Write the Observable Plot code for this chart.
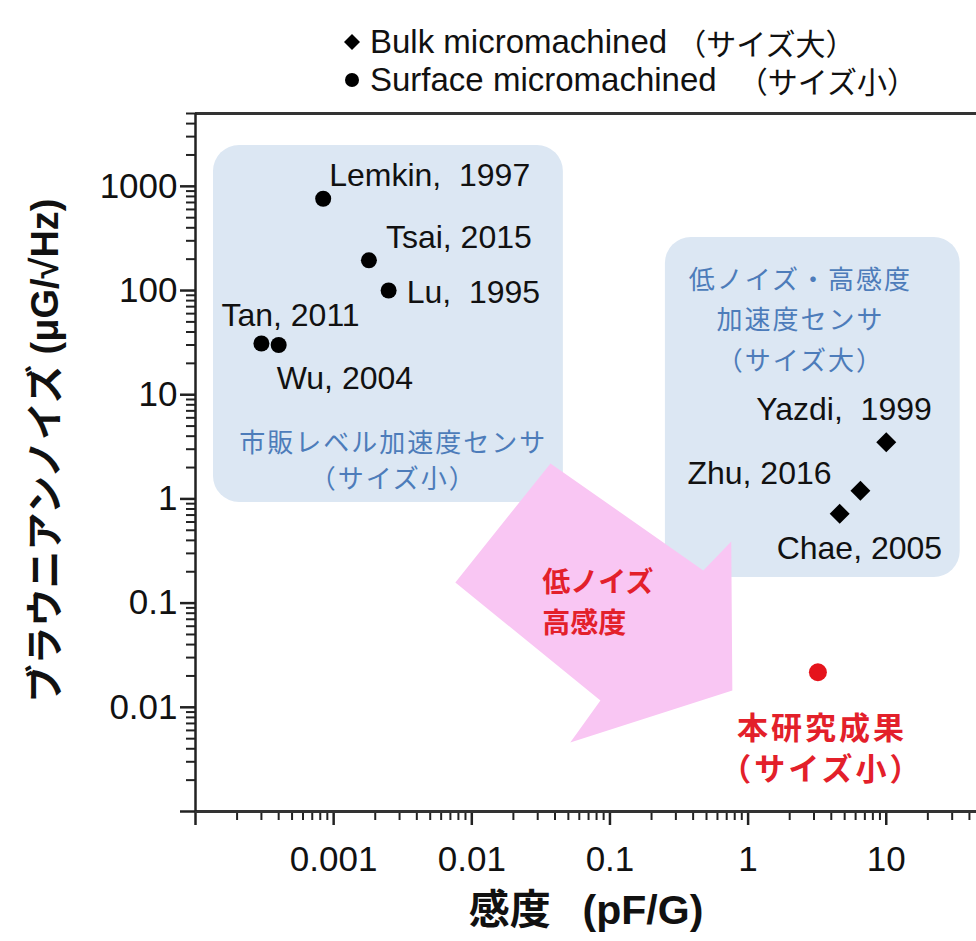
<!DOCTYPE html>
<html><head><meta charset="utf-8">
<script src="https://cdn.jsdelivr.net/npm/d3@7"></script>
<script src="https://cdn.jsdelivr.net/npm/@observablehq/plot@0.6"></script>
<style>
body{margin:0;background:#fff;font-family:"Liberation Sans","Noto Sans CJK JP",sans-serif;color:#111;}
#legend{position:relative;width:976px;height:100px;}
.row{position:absolute;left:343px;display:flex;align-items:center;font-size:33px;white-space:pre;}
.row svg{margin-right:9px;}
.row .jp{font-size:30px;}
#chart svg text{white-space:pre;}
</style></head><body>
<div id="legend"></div>
<div id="chart"></div>
<script>
// ---- data ----
const legendLabels = ["Bulk micromachined", "Surface micromachined"];
const legendNotes = ["（サイズ大）", "（サイズ小）"];
const legendSymbols = ["diamond", "circle"];

const xDomain = [1e-4, 45];
const yDomain = [0.001, 5000];
const xTickValues = [0.0001, 0.001, 0.01, 0.1, 1, 10];
const xTickLabels = ["", "0.001", "0.01", "0.1", "1", "10"];
const yTickValues = [0.001, 0.01, 0.1, 1, 10, 100, 1000];
const yTickLabels = ["", "0.01", "0.1", "1", "10", "100", "1000"];
const xLabel = "感度\u2002 (pF/G)";
const yLabel = "ブラウニアンノイズ (μG/√Hz)";

const refNames = ["Lemkin,  1997", "Tsai, 2015", "Lu,  1995", "Tan, 2011", "Wu, 2004", "Yazdi,  1999", "Zhu, 2016", "Chae, 2005"];
const refType = ["Surface", "Surface", "Surface", "Surface", "Surface", "Bulk", "Bulk", "Bulk"];
const refSens = [0.00084, 0.0018, 0.0025, 0.0003, 0.0004, 10, 6.5, 4.6];
const refNoise = [760, 195, 100, 31, 30, 3.5, 1.2, 0.72];

const ourSens = [3.2];
const ourNoise = [0.0217];
const ourLabel = ["本研究成果\n（サイズ小）"];

const boxX1 = [1.35e-4, 0.252];
const boxX2 = [0.046, 34.3];
const boxY1 = [0.925, 0.176];
const boxY2 = [2466, 323];
const boxText = ["市販レベル加速度センサ\n（サイズ小）", "低ノイズ・高感度\n加速度センサ\n（サイズ大）"];
const boxTextX = [0.0027, 2.39];
const boxTextY = [2.44, 56.4];

const arrowX = [0.0371, 0.474, 0.755, 0.769, 0.0516, 0.0853, 0.0076];
const arrowY = [2.19, 0.206, 0.391, 0.0145, 0.0046, 0.01164, 0.158];
const arrowText = ["低ノイズ\n高感度"];
const arrowTextX = [0.0324];
const arrowTextY = [0.1086];

// ---- legend ----
const lg = document.getElementById("legend");
legendLabels.forEach((t, i) => {
  const row = document.createElement("div");
  row.className = "row";
  row.style.top = (i === 0 ? 20 : 58) + "px";
  const shape = legendSymbols[i] === "diamond"
    ? '<path d="M9,1L17,9L9,17L1,9Z" fill="#000"/>'
    : '<circle cx="9" cy="9" r="7" fill="#000"/>';
  const gap = i === 0 ? 0 : 12;
  row.innerHTML = `<svg width="18" height="18">${shape}</svg><span>${t} </span><span class="jp" style="margin-left:${gap}px">${legendNotes[i]}</span>`;
  lg.appendChild(row);
});

// ---- chart ----
const FONT = '"Liberation Sans","Noto Sans CJK JP",sans-serif';
const isMajor = v => Math.abs(Math.log10(v) - Math.round(Math.log10(v))) < 1e-6;
const xMinor = d3.scaleLog().domain(xDomain).ticks(30).filter(v => !isMajor(v));
const yMinor = d3.scaleLog().domain(yDomain).ticks(30).filter(v => !isMajor(v));
const xLab = new Map(xTickValues.map((v, i) => [v, xTickLabels[i]]));
const yLab = new Map(yTickValues.map((v, i) => [v, yTickLabels[i]]));

const refIdx = refNames.map((_, i) => i);
const arrowIdx = arrowX.map((_, i) => i);

// label offsets (px) relative to each point
const offsets = [[6, -23], [17, -23], [18, 2], [-40, -28], [-2, 34], [-130, -32], [-173, -17], [-63, 35]];
const boxFont = [26, 26];
const boxLine = [1.4, 1.55];
const BOXBLUE = "#4d7cba", RED1 = "#e3202b", RED2 = "#e3202a";

const marks = [
  Plot.rect([0, 1], {x1: i => boxX1[i], x2: i => boxX2[i], y1: i => boxY1[i], y2: i => boxY2[i],
    fill: "#dce7f3", rx: 26}),
  Plot.line(arrowIdx, {x: i => arrowX[i], y: i => arrowY[i], curve: "linear-closed", fill: "#f9c6f3", stroke: "none"}),
  ...[0, 1].map(i => Plot.text([i], {x: j => boxTextX[j], y: j => boxTextY[j], text: j => boxText[j],
    fill: BOXBLUE, fontSize: boxFont[i], lineHeight: boxLine[i], fontFamily: FONT, textAnchor: "middle"})),
  Plot.text(arrowText, {x: () => arrowTextX[0], y: () => arrowTextY[0], text: d => d, textAnchor: "start",
    fill: RED1, fontSize: 28, fontWeight: "bold", lineHeight: 1.46, fontFamily: FONT}),
  // axes
  Plot.axisX(xMinor, {tickSize: 9, tickFormat: () => "", strokeWidth: 2, stroke: "#222", label: null}),
  Plot.axisX(xTickValues, {tickSize: 14, tickFormat: d => xLab.get(d), strokeWidth: 2.5, stroke: "#222",
    fontSize: 35, tickPadding: 21, label: null, fill: "#111", fontFamily: FONT}),
  Plot.axisY(yMinor, {tickSize: 9, tickFormat: () => "", strokeWidth: 2, stroke: "#222", label: null}),
  Plot.axisY(yTickValues, {tickSize: 15, tickFormat: d => yLab.get(d), strokeWidth: 2.5, stroke: "#222",
    fontSize: 35, tickPadding: 3, label: null, fill: "#111", fontFamily: FONT}),
  Plot.ruleY([yDomain[0], yDomain[1]], {stroke: "#333", strokeWidth: 3}),
  Plot.ruleX([xDomain[0]], {stroke: "#222", strokeWidth: 2.5}),
  Plot.text([xLabel], {frameAnchor: "bottom", dy: 112, text: d => d, fontSize: 41, fontWeight: "bold", fill: "#111", fontFamily: FONT}),
  Plot.text([yLabel], {frameAnchor: "left", textAnchor: "middle", dx: -150, dy: -12, rotate: -90, text: d => d,
    fontSize: 38, fontWeight: "bold", fill: "#111", fontFamily: FONT}),
  // points
  Plot.dot(refIdx.filter(i => refType[i] === "Surface"), {x: i => refSens[i], y: i => refNoise[i], r: 8, fill: "#000", symbol: "circle"}),
  Plot.dot(refIdx.filter(i => refType[i] === "Bulk"), {x: i => refSens[i], y: i => refNoise[i], r: 9, fill: "#000", symbol: "diamond2"}),
  Plot.dot(ourSens, {x: d => d, y: (d, i) => ourNoise[i], r: 9, fill: "#e5141c"}),
  Plot.text(ourLabel, {x: () => ourSens[0], y: () => ourNoise[0], text: d => d, dx: 4, dy: 74, fontSize: 31, fontWeight: "bold",
    fill: RED2, lineHeight: 1.33, fontFamily: FONT})
];
refIdx.forEach(i => {
  const [dx, dy] = offsets[i];
  marks.push(Plot.text([i], {x: j => refSens[j], y: j => refNoise[j], text: j => refNames[j], dx, dy, textAnchor: "start",
    fontSize: 32, fill: "#111", fontFamily: FONT}));
});

const chart = Plot.plot({
  width: 976, height: 841,
  marginTop: 13, marginBottom: 130, marginLeft: 195, marginRight: 0,
  x: {type: "log", domain: xDomain},
  y: {type: "log", domain: yDomain},
  style: {fontFamily: FONT, background: "#fff", overflow: "visible"},
  marks
});
// letter spacing for the spaced-out Japanese annotations
d3.select(chart).selectAll(`g[fill="${BOXBLUE}"] text`).style("letter-spacing", "2px");
d3.select(chart).selectAll(`g[fill="${RED2}"] text`).style("letter-spacing", "3px");
document.getElementById("chart").appendChild(chart);
</script>
</body></html>
